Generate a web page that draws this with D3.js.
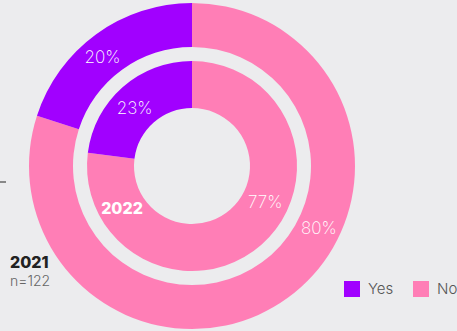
<!DOCTYPE html>
<html>
<head>
<meta charset="utf-8">
<script src="https://cdn.jsdelivr.net/npm/d3@7"></script>
<style>
  html, body { margin: 0; padding: 0; background: #ececee; }
  svg { display: block; font-family: Inter, "Open Sans", sans-serif; }
</style>
</head>
<body>
<svg id="chart" width="457" height="331"></svg>
<script>
// Share of respondents answering Yes / No, by survey year
const categories = ["Yes", "No"];
const values2021 = [20, 80];
const values2022 = [23, 77];
const years = ["2021", "2022"];
const sampleNote = "n=122";

const colors = d3.scaleOrdinal().domain(categories).range(["#a100ff", "#ff7eb6"]);

const svg = d3.select("#chart");
const cx = 192, cy = 166;

// "No" runs clockwise from 12 o'clock, "Yes" closes the circle
const pie = d3.pie().sort(null).value(d => d.value);
const toRows = vals => ["No", "Yes"].map(c => ({ cat: c, value: vals[categories.indexOf(c)] }));

const rings = [
  { year: years[0], vals: values2021, inner: 119, outer: 163 },
  { year: years[1], vals: values2022, inner: 58, outer: 105 }
];

const g = svg.append("g").attr("transform", `translate(${cx},${cy})`);

rings.forEach(ring => {
  const arcs = pie(toRows(ring.vals));
  const arc = d3.arc().innerRadius(ring.inner).outerRadius(ring.outer);
  const rg = g.append("g");
  rg.selectAll("path").data(arcs).join("path")
    .attr("d", arc)
    .attr("fill", d => colors(d.data.cat));

  const rMid = (ring.inner + ring.outer) / 2;
  rg.selectAll("text").data(arcs).join("text")
    .attr("transform", d => {
      // Yes labels sit near the slice middle; No labels on the lower right
      const a = d.data.cat === "Yes"
        ? (d.startAngle + d.endAngle) / 2 - 0.06
        : (116 / 180) * Math.PI;
      return `translate(${rMid * Math.sin(a)},${-rMid * Math.cos(a)})`;
    })
    .attr("text-anchor", "middle")
    .attr("dy", "0.36em")
    .attr("fill", "#fff")
    .attr("font-size", 17)
    .attr("font-weight", 200)
    .text(d => d.data.value + "%");
});

// Year labels
svg.append("text")
  .attr("x", 122).attr("y", 208).attr("dy", "0.36em")
  .attr("text-anchor", "middle")
  .attr("fill", "#fff").attr("font-size", 16).attr("font-weight", 800)
  .text(years[1]);

svg.append("text")
  .attr("x", 10).attr("y", 262).attr("dy", "0.36em")
  .attr("fill", "#222").attr("font-size", 16).attr("font-weight", 800)
  .text(years[0]);

svg.append("text")
  .attr("x", 10).attr("y", 281).attr("dy", "0.36em")
  .attr("fill", "#666").attr("font-size", 14).attr("font-weight", 300)
  .text(sampleNote);

// Small tick at the left edge
svg.append("line")
  .attr("x1", 0).attr("x2", 6).attr("y1", 182).attr("y2", 182)
  .attr("stroke", "#888").attr("stroke-width", 2);

// Legend
const legend = svg.append("g").attr("transform", "translate(344,281)");
const items = legend.selectAll("g").data(categories).join("g")
  .attr("transform", (d, i) => `translate(${i * 69},0)`);
items.append("rect").attr("width", 16).attr("height", 16).attr("fill", d => colors(d));
items.append("text")
  .attr("x", 24).attr("y", 8).attr("dy", "0.36em")
  .attr("fill", "#555").attr("font-size", 15).attr("font-weight", 300)
  .text(d => d);
</script>
</body>
</html>
